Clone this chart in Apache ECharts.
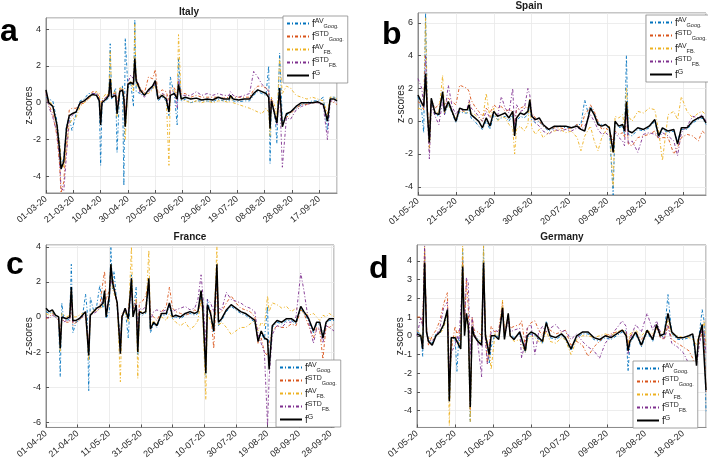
<!DOCTYPE html>
<html>
<head>
<meta charset="utf-8">
<script src="https://cdn.jsdelivr.net/npm/echarts@6/dist/echarts.min.js"></script>
<style>
html, body { margin: 0; padding: 0; background: #fff; }
#main { width: 708px; height: 461px; }
</style>
</head>
<body>
<div id="main"></div>
<script>
//---------------- Italy (start 01-03-20) ----------------
var itDay = [0,2,5,8,10,11,13,15,17,19, 22,25,28,31,34,37,39,40,41,44, 46,47,48,51,52,54,56,57,58,60,
	62,64,65,66,69,72,75,78,80,82, 85,88,90,91,94,96,97,99,102,106, 110,114,118,122,126,130,134,135,137,141,
	145,149,152,155,158,161,163,164,165,168, 169,171,173,176,179,183,187,191,195,199, 203,206,208,211,213];
var itG = [0.7,0.0,-0.2,-1.2,-2.6,-3.6,-3.2,-1.4,-0.7,-0.6, -0.5,0.0,0.1,0.3,0.45,0.4,0.1,-1.2,0.0,0.2,
	0.4,1.3,0.3,0.4,-0.6,0.6,0.7,0.2,-1.3,1.0, 1.1,1.0,2.4,1.2,0.7,0.4,0.7,0.9,1.2,0.2,
	0.4,0.2,-0.5,0.4,0.5,0.2,1.0,0.2,0.3,0.2, 0.25,0.15,0.2,0.15,0.3,0.2,0.2,0.4,0.2,0.15,
	0.2,0.2,0.5,0.7,0.6,0.5,0.3,-1.4,0.1,-0.8, -1.1,0.8,-1.3,-0.6,-0.5,-0.2,0.0,0.0,0.0,0.05, -0.1,-1.0,0.2,0.2,0.1];
var itAvGoog = [0.3,0.2,0.1,-1.0,-2.2,-3.5,-3.0,-1.2,-0.8,-1.5, -0.6,0.1,0.2,0.5,0.5,0.5,0.0,-3.4,-0.1,0.1,
	0.3,3.2,0.2,0.8,-2.7,0.8,0.9,-4.5,3.5,0.8, 1.1,-0.2,4.5,0.6,0.5,0.4,0.6,0.8,1.0,0.1,
	0.3,0.1,-0.7,1.4,0.4,-1.2,2.4,0.1,0.2,0.0, 0.1,0.1,0.1,0.05,0.2,0.1,0.1,0.3,0.1,0.05,
	0.1,0.1,0.4,0.6,0.5,0.4,2.0,-3.3,0.2,-1.0, -2.2,2.7,-1.0,-0.7,-0.5,-0.3,-0.1,0.0,0.1,0.1, 0.3,-1.5,0.3,0.3,0.2];
var itStdGoog = [0.6,-0.1,-0.6,-1.8,-3.4,-4.9,-4.3,-2.0,-0.4,-0.3, -0.3,-0.1,0.0,0.2,0.6,0.6,0.3,-0.6,0.1,0.3,
	0.5,1.0,0.5,0.5,0.0,0.7,0.8,0.5,-0.5,1.0, 1.1,1.1,2.0,1.3,0.8,0.5,1.4,1.3,1.8,0.5,
	0.7,0.6,0.1,0.8,0.8,0.4,1.0,0.5,0.5,0.3, 0.4,0.3,0.3,0.3,0.3,0.25,0.3,0.4,0.3,0.3,
	0.3,0.3,0.7,0.9,0.9,0.8,0.7,-1.0,0.3,-0.8, -1.0,0.5,-1.2,-0.8,-0.6,-0.3,-0.1,-0.1,0.0,0.0, -0.1,-0.8,0.1,0.0,-0.1];
var itAvFb = [0.4,0.2,-0.2,-1.2,-2.2,-3.0,-3.5,-2.6,-1.2,-0.9, -0.8,-0.2,0.0,0.2,0.4,0.6,0.5,-0.5,0.2,0.5,
	0.4,2.8,0.5,0.6,-0.8,0.8,0.8,0.3,-2.0,1.0, 1.2,0.6,4.3,1.0,0.6,0.5,0.5,0.7,1.0,0.3,
	0.5,0.3,-3.4,0.6,0.7,0.2,3.7,0.2,0.1,0.0, 0.1,0.0,0.1,0.0,0.1,0.1,0.0,0.3,0.0,-0.1,
	-0.2,-0.3,-0.4,-0.5,-0.6,-0.3,-0.5,-1.8,0.3,-0.3, -0.9,2.4,0.5,0.9,0.8,0.4,0.3,0.2,0.3,0.2, 0.1,-0.6,0.3,0.3,0.2];
var itStdFb = [0.5,-0.2,-0.8,-1.6,-3.2,-4.6,-4.8,-2.8,-0.9,-0.7, -0.5,0.0,0.1,0.3,0.5,0.5,0.2,-1.0,0.1,0.3,
	0.3,1.0,0.3,0.5,-0.3,0.6,0.7,0.3,-0.8,1.1, 1.5,1.3,2.0,1.4,0.5,0.3,0.6,0.8,1.1,0.3,
	0.5,0.4,-0.3,0.6,0.6,-0.3,1.3,0.4,0.4,0.4, 0.6,0.4,0.5,0.4,0.5,0.4,0.4,0.6,0.4,0.3,
	0.4,0.5,1.7,1.4,1.0,0.8,0.6,-1.2,0.2,-0.9, -1.2,0.5,-3.5,-0.8,-0.9,-0.4,-0.2,-0.1,0.0,0.0, -0.2,-2.0,0.1,0.1,0.0];

//---------------- Spain (start 01-05-20) ----------------
var spDay = [0,2,3,4,5,6,7,9,11,13, 14,16,18,20,22,24,26,27,28,30, 32,34,36,38,40,42,44,46,48,50,
	51,52,54,56,58,59,60,62,64,66, 69,72,75,78,81,84,86,88,90,91, 93,95,97,99,101,103,104,106,108,109,
	110,111,113,116,119,122,125,127,129,132, 135,137,139,142,145,148,150,152];
var spG = [1.6,1.1,0.9,2.9,0.4,-1.3,1.4,0.5,0.4,1.8, 0.6,1.2,0.6,0.0,0.8,0.7,0.7,1.0,0.4,0.2,
	0.0,-0.4,0.2,-0.3,0.6,0.3,0.4,0.5,0.2,0.6, -0.9,0.2,0.5,0.4,0.6,1.3,0.3,0.1,0.2,-0.2,
	-0.5,-0.3,-0.3,-0.3,-0.4,-0.3,-0.5,-0.6,0.3,0.8, 0.4,-0.2,-0.3,-0.2,-0.4,-1.9,0.0,-0.3,-0.2,-0.6,
	1.2,-0.6,-0.7,-0.4,-0.5,-0.3,0.1,-0.9,-0.4,-0.6, -0.5,-1.4,-0.4,-0.4,0.0,0.2,0.3,-0.1];
var spAvGoog = [1.5,0.6,-0.7,6.6,0.2,-1.0,1.2,0.4,0.3,1.6, 0.4,1.0,0.5,-0.1,0.6,0.5,0.5,0.8,0.2,0.0,
	-0.3,-0.5,0.0,-0.5,0.4,0.1,0.2,0.3,0.0,0.4, -0.7,0.0,0.3,0.2,0.4,1.0,0.1,-0.1,0.0,-0.3,
	-0.6,-0.4,-0.3,-0.4,-0.4,-0.2,-0.2,1.3,0.4,0.9, 0.5,-0.1,-0.2,-0.2,-0.5,-4.5,-0.1,-0.4,-0.3,-0.8,
	4.0,-0.8,-0.9,-0.5,-0.6,-0.4,0.0,-1.0,-0.5,-0.7, -0.6,-1.2,-0.5,-0.5,-0.1,0.1,0.2,-0.2];
var spStdGoog = [1.2,1.0,0.7,2.5,0.8,-0.5,1.3,0.8,1.0,1.6, 1.0,1.4,1.2,1.0,2.2,2.1,2.0,1.8,1.3,0.9,
	0.6,0.3,0.8,0.5,1.0,0.8,0.9,0.6,0.7,0.6, -0.2,0.7,0.8,0.9,0.8,1.0,0.5,0.2,0.0,-0.3,
	-0.5,-0.4,-0.4,-0.5,-0.4,-0.2,-0.4,0.4,0.7,1.0, 0.6,0.0,-0.5,-0.4,-0.6,-1.2,-0.6,-0.8,-0.7,-1.0,
	0.6,-1.4,-1.5,-1.0,-0.9,-0.8,-0.6,-1.1,-1.0,-1.0, -2.0,-1.6,-1.0,-0.8,-0.9,-1.2,-0.6,-0.8];
var spAvFb = [0.8,0.7,1.0,6.3,0.5,-1.8,1.0,0.6,0.5,2.8, 0.5,1.1,0.5,0.2,0.6,0.6,0.5,1.2,0.5,0.4,
	0.2,0.0,1.7,0.2,0.8,0.0,0.3,0.2,-0.2,-0.4, -2.0,-0.5,-0.3,-0.6,-0.2,1.4,-0.4,-0.8,-0.5,-1.0,
	-0.7,-0.6,-0.5,-0.7,-0.6,-1.0,-1.8,-0.9,-0.5,-0.3, -1.2,-1.8,-1.0,-0.6,-0.3,-4.0,0.3,0.2,0.4,-0.4,
	2.0,0.3,0.0,0.6,0.5,0.8,0.7,-0.6,-2.4,0.4, 0.6,0.1,1.5,0.6,0.2,0.5,0.6,0.4];
var spStdFb = [2.6,2.0,0.8,4.0,0.4,-2.3,1.0,0.3,-0.2,1.2, 0.4,2.2,0.9,0.4,0.8,0.6,0.8,1.3,0.8,0.6,
	0.3,0.0,0.6,0.2,0.5,0.3,1.5,0.8,0.5,2.0, -0.5,1.0,0.6,0.7,2.0,1.6,0.5,-0.1,-0.3,-0.6,
	-0.8,-0.5,-0.6,-0.5,-0.6,-0.4,-0.5,-0.3,0.2,0.4, 0.0,-0.5,-0.8,-0.7,-0.9,-1.4,-0.7,-1.0,-1.2,-1.5,
	0.8,-1.4,-1.2,-1.9,-0.8,-0.7,-0.8,-1.0,-0.7,-0.9, -1.2,-2.1,-0.7,-0.3,0.3,0.2,0.4,0.0];

//---------------- France (start 01-04-20) ----------------
var frDay = [0,2,4,6,8,9,10,11,13,15, 16,17,19,21,23,25,26,27,28,30, 32,34,36,37,38,40,41,42,43,45,
	47,48,50,52,54,55,57,58,59,61, 63,65,66,68,70,73,76,78,80,82, 85,88,91,94,96,98,99,101,102,104,
	106,108,109,111,114,117,120,123,126,129, 132,134,136,138,140,141,143,146,149,152,
	155,158,161,163,166,169,171,173,175,177, 179,182];
var frG = [0.5,0.3,0.4,0.1,0.0,-1.8,0.0,0.0,-0.1,0.0, 1.7,-0.2,-0.2,-0.1,0.1,0.3,0.3,-2.2,0.1,0.3,
	0.5,0.6,0.8,1.5,0.0,1.2,3.0,2.0,1.9,0.8, -2.1,0.0,0.5,-0.1,2.2,0.0,0.7,-2.0,0.3,0.2,
	0.3,2.2,-0.7,-0.3,-0.5,0.2,0.2,0.8,0.0,0.1, 0.0,0.2,0.3,0.2,0.3,1.5,0.6,-3.2,0.7,0.2,
	-0.8,3.0,-0.3,-0.1,0.4,0.7,0.5,0.3,0.2,0.0, -0.2,-1.4,-0.8,-1.2,-1.3,-3.0,-0.5,-0.2,-0.3,-0.1,
	-0.1,-0.3,0.6,0.3,-0.1,-0.8,-0.3,-0.3,-1.2,-0.3, -0.1,-0.1];
var frAvGoog = [0.3,0.2,0.3,0.0,-0.1,-3.4,0.8,0.0,-0.2,-0.1, 3.0,-0.9,-0.3,-0.2,0.0,1.3,0.4,-4.2,1.1,0.4,
	0.6,1.8,0.5,1.2,-0.1,0.3,4.0,1.6,2.6,0.5, -1.2,-0.2,0.5,-1.2,2.4,0.2,1.7,-2.2,0.2,0.1,
	0.2,1.9,-0.9,-0.4,-0.6,0.1,0.1,0.6,-0.1,0.0, -0.1,0.1,0.2,0.1,0.2,1.2,1.0,-3.4,1.0,0.1,
	-0.9,2.6,-0.5,-0.2,0.3,0.6,0.4,0.2,0.1,-0.1, -0.3,-1.3,-0.9,-1.3,0.6,-2.8,-0.6,-0.3,-0.4,-0.2,
	-0.2,-0.4,0.5,0.2,-0.2,-0.9,-0.4,-0.4,-1.0,-0.4, -0.2,-0.2];
var frStdGoog = [-0.1,0.0,0.2,0.0,-0.2,-1.0,0.0,-0.2,-0.3,-0.3, 1.0,-0.5,-0.3,-0.2,0.0,0.1,0.2,-1.5,0.0,0.3,
	0.4,0.6,2.0,2.6,1.0,1.5,2.8,2.2,1.8,0.6, -1.5,0.2,0.4,0.5,1.5,0.5,1.0,-1.0,0.8,0.9,
	1.2,2.0,0.2,0.0,-0.2,0.3,0.6,1.7,0.5,0.3, 0.2,0.1,0.2,0.4,0.3,1.0,0.4,-2.5,0.5,0.4,
	-1.8,2.0,0.2,0.3,0.8,1.2,0.8,0.5,0.4,0.3, 0.0,-1.5,-1.2,-2.0,-2.2,-1.5,-0.8,-0.5,-0.6,-0.6,
	-0.4,-0.5,0.4,0.2,-0.5,-1.2,-0.6,-0.8,-2.4,-0.5, -0.6,-0.4];
var frAvFb = [0.2,0.1,0.3,0.1,0.0,-2.0,0.2,0.1,0.0,0.1, 1.5,0.0,0.0,0.1,0.2,0.2,0.2,-2.5,0.2,0.4,
	0.3,0.5,0.6,1.0,0.2,1.0,3.0,1.6,1.5,0.8, -3.7,0.0,0.3,-0.3,4.0,0.0,1.0,-3.5,0.3,0.3,
	0.2,3.8,-0.6,-0.2,-0.4,0.0,-0.2,0.2,-0.1,-0.3, -0.5,-0.3,-0.7,-0.5,-0.2,1.0,0.2,-4.7,0.3,-0.3,
	-0.7,4.0,-0.5,-0.3,-0.6,-1.0,-0.8,-0.6,-0.6,-0.4, -0.2,-0.8,-0.3,-0.5,1.2,0.3,0.8,0.7,0.5,0.6,
	0.3,0.5,0.4,0.2,0.1,0.2,0.0,-0.2,0.1,0.0, 0.2,0.0];
var frStdFb = [0.0,-0.1,0.1,0.0,-0.2,-1.5,0.0,-0.3,-0.2,-0.2, 1.0,-0.3,-0.2,-0.1,0.0,0.1,0.2,-1.8,0.1,0.2,
	0.3,0.5,1.0,1.4,0.3,1.2,2.2,1.8,1.6,0.8, -1.8,0.0,0.4,0.3,1.5,0.3,0.8,-1.2,0.5,0.4,
	0.6,1.8,-0.2,0.3,0.4,0.3,0.4,0.6,0.3,0.4, 0.5,0.6,0.4,0.5,1.0,2.4,1.4,-1.5,1.0,0.8,
	0.3,2.2,0.5,0.4,1.4,1.0,0.9,0.8,0.6,0.5, 0.3,-1.0,-1.5,-2.0,-6.2,-3.5,-1.0,-0.5,-0.6,-0.3,
	-0.3,0.0,2.5,1.5,-0.3,-1.5,-0.7,-0.6,-1.5,-0.5, -0.6,-0.8];

//---------------- Germany (start 01-05-20) ----------------
var deDay = [0,2,3,4,5,6,8,10,12,14, 16,17,18,20,21,22,23,24,25,26, 27,28,29,30,32,34,35,36,37,38,
	39,41,43,45,46,48,49,51,54,55, 57,58,60,62,64,66,68,70,73,76, 78,81,84,87,90,93,96,99,102,105,
	108,110,111,112,115,118,121,124,126,128, 130,132,134,137,140,143,145,146,147,148, 150,151,152];
var deG = [0.1,0.0,-0.7,3.9,0.2,-0.3,-0.5,0.0,0.2,0.6, 1.4,-3.5,-0.1,-0.1,-0.3,-0.2,-0.7,3.7,0.0,1.2,
	0.5,-3.8,0.5,0.0,-0.3,-0.5,3.9,0.0,-0.5,-1.0, 0.0,0.0,-0.2,1.5,-0.2,1.2,0.0,-0.2,0.2,0.1,
	-0.8,0.0,0.2,0.1,-0.1,-0.3,0.7,0.0,-0.1,0.1, -0.1,-0.7,0.0,0.2,0.2,-0.1,-0.2,0.0,-0.1,0.1,
	0.3,0.0,-0.8,-0.3,0.2,-0.5,0.3,-0.2,0.6,0.0, 0.1,1.2,0.2,-0.1,-0.1,0.0,0.1,-0.5,-1.6,-0.2, 0.6,0.7,-2.9];
var deAvGoog = [0.2,0.1,-1.1,4.5,0.3,-0.2,-0.4,0.1,0.1,0.5, 1.2,-3.5,-0.2,-0.1,-1.9,-0.1,-0.5,4.7,0.2,1.0,
	0.4,-4.6,0.4,0.1,-0.2,-0.4,4.8,0.1,-0.4,-1.5, -0.6,0.1,-0.1,1.4,-0.1,1.1,0.1,-0.1,0.1,0.0,
	-0.9,-0.1,0.1,0.0,-0.2,-0.4,0.8,-0.1,-0.2,0.0, -0.2,-0.8,-0.1,0.1,0.1,-0.2,-0.3,-0.1,-0.2,0.0,
	0.2,0.3,-1.9,-0.4,0.1,-0.6,0.2,-0.3,0.5,-0.1, 0.0,2.2,0.1,-0.2,-0.2,-0.1,0.0,-0.8,-1.2,-0.3, 1.4,0.8,-4.1];
var deStdGoog = [1.0,1.0,0.6,4.5,0.5,-0.5,0.0,0.3,0.8,1.7, 2.3,-2.7,-0.8,0.5,0.1,0.3,-0.3,4.2,0.5,3.0,
	1.5,-4.0,1.0,0.3,0.2,0.0,4.0,0.4,-1.5,-0.5, 0.5,0.2,0.3,1.8,0.2,1.1,0.4,0.5,0.6,0.8,
	-0.6,0.4,0.7,0.8,0.3,0.0,0.6,0.3,0.1,0.2, 0.3,-0.5,-0.3,-0.5,-1.1,-0.6,-0.3,0.0,0.1,0.2,
	0.3,0.2,-0.6,0.0,0.2,-0.2,0.2,0.0,0.4,-0.1, -0.2,0.6,-0.2,-0.4,-0.6,-0.8,-1.2,-1.6,-1.2,-0.5, 0.2,0.0,-3.0];
var deAvFb = [0.3,0.1,-0.3,4.8,0.2,-0.1,-0.2,0.0,0.1,0.4, 1.2,-4.8,-0.3,0.0,-0.2,-0.1,-0.5,4.8,0.1,1.0,
	0.3,-4.6,0.3,0.1,-0.2,-0.3,4.8,0.1,-0.3,-0.8, -1.8,0.1,0.0,1.9,0.0,1.2,0.0,-0.3,-0.2,-0.3,
	-0.9,-0.2,0.0,-0.1,-0.3,-0.4,0.3,-0.3,-0.4,-0.1, -0.2,-1.0,-0.2,0.0,0.0,-0.1,0.0,0.1,0.0,0.2,
	0.3,0.2,-0.5,0.1,0.3,0.0,0.3,0.1,0.4,0.2, 0.2,0.8,0.1,0.0,-0.1,-0.1,-0.2,-0.3,-0.5,-0.1, 0.3,0.8,-0.5];
var deStdFb = [0.0,1.0,0.5,4.8,0.3,-0.2,-0.3,0.0,0.4,1.5, 1.8,-2.0,-0.9,-0.5,0.0,-0.3,-0.4,3.0,0.5,3.1,
	2.8,-1.0,1.0,0.2,-0.4,-2.2,3.5,-0.3,-1.5,-0.6, 0.2,0.3,0.2,1.5,0.0,0.8,0.2,0.3,0.4,-1.2,
	-0.3,0.4,0.6,-1.0,0.2,0.5,0.2,0.4,0.6,0.2, 0.3,-0.2,0.1,-0.3,-0.6,-0.8,-1.2,-0.4,0.0,0.4,
	0.8,0.5,-1.0,-0.2,0.6,0.2,1.2,0.3,0.8,0.2, -0.2,0.5,-0.4,-0.6,-0.9,-1.5,-2.5,-3.5,-1.8,-0.8, 0.4,0.2,-1.0];

//系列名称与样式
var seriesKeys = ['AVG', 'STDG', 'AVF', 'STDF', 'G'];
var seriesColor = {AVG: '#0072BD', STDG: '#D95319', AVF: '#EDB120', STDF: '#7E2F8E', G: '#000000'};
var legendLabel = {
	AVG: '{f|f}{sup|AV}{sub|Goog.}',
	STDG: '{f|f}{sup|STD}{sub|Goog.}',
	AVF: '{f|f}{sup|AV}{sub|FB.}',
	STDF: '{f|f}{sup|STD}{sub|FB.}',
	G: '{f|f}{sup|G}'
};

var FONT = 'Liberation Sans, Arial, Helvetica, sans-serif';

//面板定义
var panels = [
	{title: 'Italy', letter: 'a', start: [2020, 2, 1], xMax: 213, yMin: -4.9, yMax: 4.6, split: 5,
		grid: {left: 46, top: 18, width: 291, height: 175},
		day: itDay, vals: [itAvGoog, itStdGoog, itAvFb, itStdFb, itG],
		titlePos: [189, 12], letterPos: [0, 48], legendPos: [283, 16]},
	{title: 'Spain', letter: 'b', start: [2020, 4, 1], xMax: 152, yMin: -4.5, yMax: 6.6, split: 5,
		grid: {left: 418, top: 13, width: 288, height: 182},
		day: spDay, vals: [spAvGoog, spStdGoog, spAvFb, spStdFb, spG],
		titlePos: [529, 6], letterPos: [382, 51], legendPos: [646, 15]},
	{title: 'France', letter: 'c', start: [2020, 3, 1], xMax: 182, yMin: -6.3, yMax: 4.1, split: 5,
		grid: {left: 46, top: 245, width: 288, height: 183},
		day: frDay, vals: [frAvGoog, frStdGoog, frAvFb, frStdFb, frG],
		titlePos: [190, 237], letterPos: [6, 281], legendPos: [276, 360]},
	{title: 'Germany', letter: 'd', start: [2020, 4, 1], xMax: 152, yMin: -4.9, yMax: 4.85, split: 9,
		grid: {left: 417, top: 245, width: 289, height: 183},
		day: deDay, vals: [deAvGoog, deStdGoog, deAvFb, deStdFb, deG],
		titlePos: [562, 237], letterPos: [369, 285], legendPos: [633, 361]}
];

var pad = function(n) {
	return n < 10 ? '0' + n : '' + n;
};

//天数偏移 -> dd-mm-20
var dayLabel = function(start) {
	return function(v) {
		var d = new Date(Date.UTC(start[0], start[1], start[2]) + v * 86400000);
		return pad(d.getUTCDate()) + '-' + pad(d.getUTCMonth() + 1) + '-20';
	};
};

var grids = [], xAxes = [], yAxes = [], series = [], legends = [], graphics = [];

for (var p = 0; p < panels.length; p++) {
	var pn = panels[p];
	grids.push({
		left: pn.grid.left, top: pn.grid.top, width: pn.grid.width, height: pn.grid.height,
		show: true, borderColor: '#8c8c8c', borderWidth: 1, backgroundColor: '#fff'
	});
	xAxes.push({
		gridIndex: p, type: 'value', min: 0, max: pn.xMax, interval: 20,
		axisLine: {show: true, onZero: false, lineStyle: {color: '#8c8c8c'}},
		axisTick: {show: true, inside: true, length: 3, lineStyle: {color: '#555'}},
		axisLabel: {rotate: 40, fontSize: 9, color: '#262626', fontFamily: FONT, margin: 5,
			showMaxLabel: false, formatter: dayLabel(pn.start)},
		splitLine: {show: true, lineStyle: {color: '#e9e9e9', width: 0.8}}
	});
	yAxes.push({
		gridIndex: p, type: 'value', min: pn.yMin, max: pn.yMax, splitNumber: pn.split,
		name: 'z-scores', nameLocation: 'middle', nameGap: 12, nameMoveOverlap: false,
		nameTextStyle: {fontSize: 10, color: '#262626', fontFamily: FONT},
		axisLine: {show: true, lineStyle: {color: '#8c8c8c'}},
		axisTick: {show: true, inside: true, length: 3, lineStyle: {color: '#555'}},
		axisLabel: {fontSize: 9, color: '#262626', fontFamily: FONT, margin: 5,
			showMinLabel: false, showMaxLabel: false},
		splitLine: {show: true, lineStyle: {color: '#e9e9e9', width: 0.8}}
	});
	for (var k = 0; k < seriesKeys.length; k++) {
		var key = seriesKeys[k];
		var vals = pn.vals[k];
		var pts = [];
		for (var i = 0; i < pn.day.length; i++) {
			pts.push([pn.day[i], vals[i]]);
		}
		var isG = key === 'G';
		series.push({
			name: key, type: 'line', xAxisIndex: p, yAxisIndex: p,
			data: pts, symbol: 'none', silent: true, z: isG ? 5 : 2,
			itemStyle: {color: seriesColor[key]},
			lineStyle: {color: seriesColor[key], width: isG ? 1.5 : 0.9,
				type: isG ? 'solid' : [3, 2, 1, 2]}
		});
	}
	legends.push({
		data: seriesKeys, orient: 'vertical', left: pn.legendPos[0], top: pn.legendPos[1],
		itemWidth: 22, itemHeight: 8, itemGap: 2, padding: [2, 4, 2, 3],
		backgroundColor: '#fff', borderColor: '#8c8c8c', borderWidth: 0.8,
		selectedMode: false,
		itemStyle: {opacity: 0},
		formatter: function(n) { return legendLabel[n]; },
		textStyle: {
			fontFamily: FONT, color: '#262626', padding: [0, 0, 0, -2],
			rich: {
				f: {fontSize: 10, lineHeight: 11, fontFamily: FONT, color: '#262626', verticalAlign: 'bottom'},
				sup: {fontSize: 7, lineHeight: 7, fontFamily: FONT, color: '#262626', verticalAlign: 'top'},
				sub: {fontSize: 5.5, lineHeight: 5, fontFamily: FONT, color: '#262626', verticalAlign: 'bottom'}
			}
		}
	});
	graphics.push({
		type: 'text', x: pn.titlePos[0], y: pn.titlePos[1], z: 10,
		style: {text: pn.title, font: 'bold 10px ' + FONT, fill: '#1a1a1a', align: 'center', verticalAlign: 'middle'}
	});
	graphics.push({
		type: 'text', x: pn.letterPos[0], y: pn.letterPos[1], z: 10,
		style: {text: pn.letter, font: 'bold 32px ' + FONT, fill: '#000', align: 'left', verticalAlign: 'bottom'}
	});
}

var chart = echarts.init(document.getElementById('main'), null, {renderer: 'canvas'});
chart.setOption({
	backgroundColor: '#fff',
	animation: false,
	grid: grids,
	xAxis: xAxes,
	yAxis: yAxes,
	legend: legends,
	series: series,
	graphic: graphics
});
</script>
</body>
</html>
